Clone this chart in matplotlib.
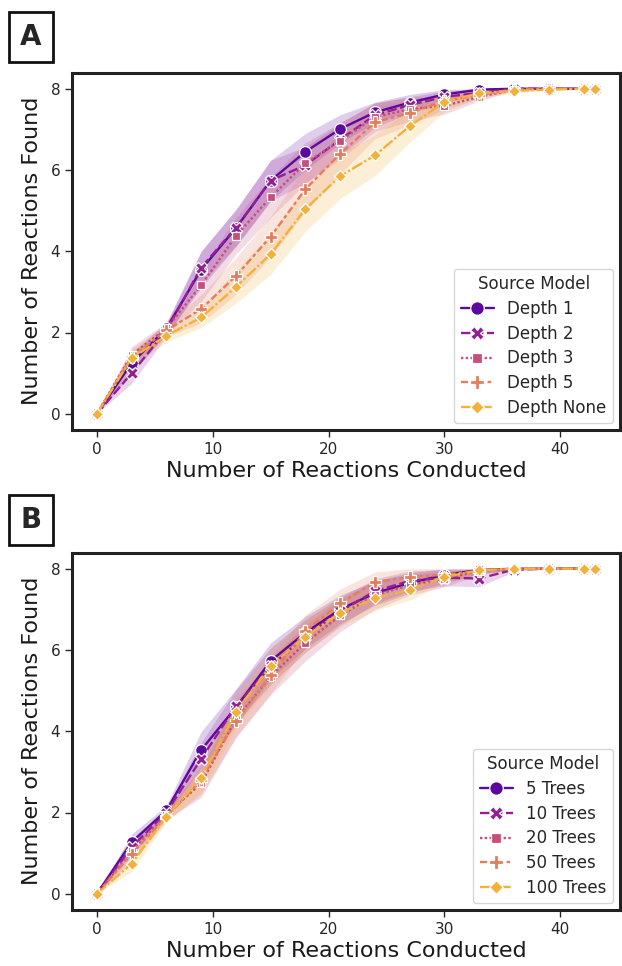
import numpy as np
import matplotlib
matplotlib.use("Agg")
import matplotlib.pyplot as plt
import seaborn as sns

# number of reactions conducted (x positions shared by all series)
steps = [0, 3, 6, 9, 12, 15, 18, 21, 24, 27, 30, 33, 36, 39, 42, 43]

# panel A: tree depth
depth_labels = ["Depth 1", "Depth 2", "Depth 3", "Depth 5", "Depth None"]
depth_1 = [0, 1.25, 2.10, 3.55, 4.57, 5.74, 6.45, 7.01, 7.42, 7.66, 7.86, 7.98, 8, 8, 8, 8]
depth_2 = [0, 1.00, 2.05, 3.60, 4.58, 5.74, 6.12, 6.75, 7.35, 7.60, 7.80, 7.90, 8, 8, 8, 8]
depth_3 = [0, 1.45, 2.10, 3.16, 4.38, 5.33, 6.17, 6.72, 7.30, 7.50, 7.58, 7.80, 7.98, 8, 8, 8]
depth_5 = [0, 1.40, 2.05, 2.58, 3.39, 4.36, 5.53, 6.40, 7.17, 7.41, 7.70, 7.85, 7.98, 8, 8, 8]
depth_none = [0, 1.37, 1.92, 2.37, 3.12, 3.93, 5.04, 5.85, 6.36, 7.08, 7.68, 7.89, 7.95, 7.98, 8, 8]
depth_err = [
    [0, 0.25, 0.15, 0.45, 0.45, 0.50, 0.45, 0.35, 0.25, 0.20, 0.12, 0.05, 0.02, 0, 0, 0],
    [0, 0.25, 0.15, 0.40, 0.45, 0.50, 0.45, 0.40, 0.30, 0.20, 0.15, 0.08, 0.02, 0, 0, 0],
    [0, 0.20, 0.15, 0.40, 0.45, 0.50, 0.50, 0.45, 0.35, 0.30, 0.20, 0.10, 0.03, 0, 0, 0],
    [0, 0.20, 0.15, 0.35, 0.45, 0.50, 0.55, 0.50, 0.40, 0.30, 0.20, 0.10, 0.03, 0, 0, 0],
    [0, 0.20, 0.15, 0.25, 0.40, 0.50, 0.55, 0.55, 0.50, 0.40, 0.25, 0.10, 0.05, 0.02, 0, 0],
]

# panel B: number of trees
tree_labels = ["5 Trees", "10 Trees", "20 Trees", "50 Trees", "100 Trees"]
trees_5 = [0, 1.27, 2.05, 3.54, 4.59, 5.73, 6.43, 7.00, 7.40, 7.65, 7.85, 7.97, 8, 8, 8, 8]
trees_10 = [0, 1.15, 2.00, 3.32, 4.62, 5.60, 6.35, 6.95, 7.45, 7.70, 7.78, 7.76, 7.98, 8, 8, 8]
trees_20 = [0, 1.05, 1.95, 2.72, 4.30, 5.35, 6.18, 6.85, 7.35, 7.60, 7.75, 7.95, 8, 8, 8, 8]
trees_50 = [0, 0.98, 1.90, 2.80, 4.25, 5.38, 6.47, 7.15, 7.67, 7.80, 7.85, 7.95, 8, 8, 8, 8]
trees_100 = [0, 0.74, 1.90, 2.85, 4.48, 5.61, 6.33, 6.92, 7.27, 7.48, 7.80, 7.96, 8, 8, 8, 8]
trees_err = [
    [0, 0.20, 0.12, 0.45, 0.45, 0.45, 0.40, 0.35, 0.30, 0.25, 0.20, 0.10, 0.02, 0, 0, 0],
    [0, 0.20, 0.12, 0.40, 0.40, 0.45, 0.40, 0.35, 0.30, 0.25, 0.20, 0.20, 0.05, 0, 0, 0],
    [0, 0.20, 0.12, 0.35, 0.45, 0.45, 0.45, 0.40, 0.35, 0.25, 0.20, 0.08, 0.02, 0, 0, 0],
    [0, 0.20, 0.12, 0.35, 0.40, 0.45, 0.40, 0.35, 0.25, 0.20, 0.15, 0.08, 0.02, 0, 0, 0],
    [0, 0.20, 0.12, 0.35, 0.40, 0.45, 0.40, 0.35, 0.30, 0.25, 0.15, 0.05, 0.02, 0, 0, 0],
]

sns.set_style("ticks")
plt.rcParams['font.family'] = ['DejaVu Sans']

palette = sns.color_palette("plasma", 5, desat=0.9)
markers = ["o", "X", (4, 0, 45), "P", (4, 0, 0)]
dashes = [None, (4, 1.5), (1, 1), (3, 1.25, 1.5, 1.25), (5, 1, 1, 1)]

W, H = 622, 966
fig = plt.figure(figsize=(W / 100, H / 100), dpi=100)


def px_axes(x0, y0, x1, y1):
    return fig.add_axes([x0 / W, 1 - y1 / H, (x1 - x0) / W, (y1 - y0) / H])


def draw_panel(ax, series, errs, labels):
    x = np.array(steps)
    for i, (vals, err, lab) in enumerate(zip(series, errs, labels)):
        y = np.array(vals)
        e = np.array(err)
        ax.fill_between(x, y - e, np.minimum(y + e, 8), color=palette[i], alpha=0.2, lw=0)
        line, = ax.plot(x, y, color=palette[i], marker=markers[i], markersize=8.5,
                        markeredgecolor="white", markeredgewidth=0.9, lw=1.7, label=lab)
        if dashes[i] is not None:
            line.set_dashes(dashes[i])
    ax.set_xlim(-2.15, 45.15)
    ax.set_ylim(-0.4, 8.4)
    ax.set_xticks([0, 10, 20, 30, 40])
    ax.set_yticks([0, 2, 4, 6, 8])
    ax.tick_params(labelsize=11, length=5, width=1, colors="#262626")
    for sp in ax.spines.values():
        sp.set_linewidth(2.2)
        sp.set_color("#222222")
    ax.set_xlabel("Number of Reactions Conducted", fontsize=16, color="#1a1a1a", labelpad=3)
    ax.set_ylabel("Number of Reactions Found", fontsize=16, color="#1a1a1a", labelpad=6)
    leg = ax.legend(title="Source Model", loc="lower right", fontsize=12,
                    title_fontsize=12, frameon=True, borderaxespad=0.4,
                    handlelength=2.0, labelspacing=0.4, borderpad=0.4,
                    markerscale=1.15)
    leg.get_frame().set_edgecolor("#cccccc")


axA = px_axes(72, 72.5, 620, 430)
draw_panel(axA, [depth_1, depth_2, depth_3, depth_5, depth_none], depth_err, depth_labels)

axB = px_axes(72, 552.5, 620, 910)
draw_panel(axB, [trees_5, trees_10, trees_20, trees_50, trees_100], trees_err, tree_labels)

box = dict(boxstyle="square,pad=0.4", fc="white", ec="#111111", lw=2)
fig.text(31 / W, 1 - 37 / H, "A", fontsize=20, weight="bold", ha="center", va="center", bbox=box)
fig.text(31 / W, 1 - 520 / H, "B", fontsize=20, weight="bold", ha="center", va="center", bbox=box)

fig.savefig("out.png", dpi=100)
